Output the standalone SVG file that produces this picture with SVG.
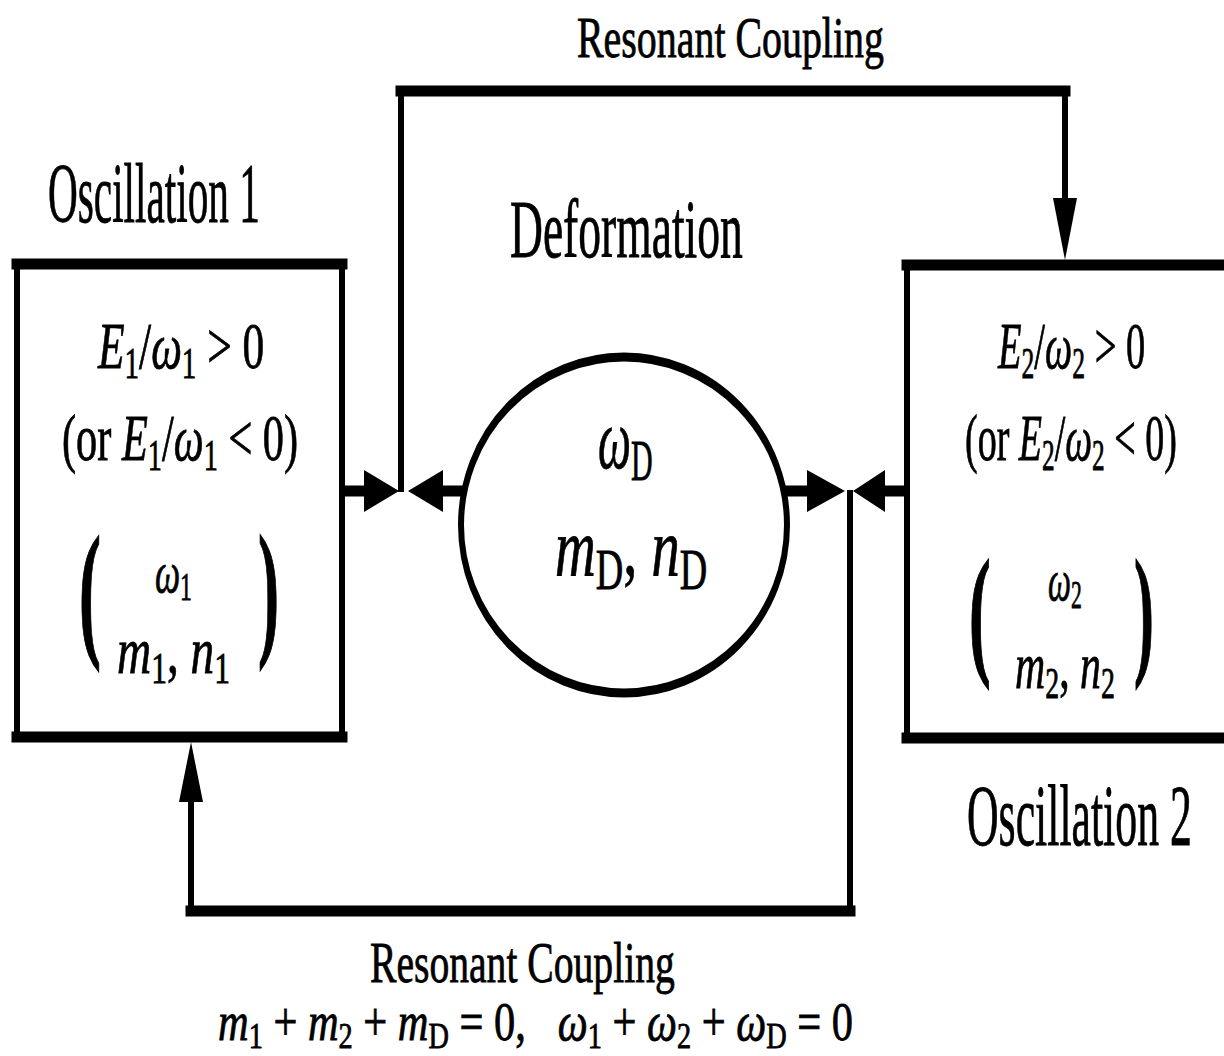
<svg xmlns="http://www.w3.org/2000/svg" width="1224" height="1056" viewBox="0 0 1224 1056">
<style>
.t{font-family:"Liberation Serif","Times New Roman",serif;fill:#000;stroke:#000;stroke-width:0.8}
.i{font-style:italic}
.p{font-weight:bold;stroke-width:1.5}
.ln{stroke:#000;fill:none;stroke-linecap:square}
.h{stroke-width:11}
.v{stroke-width:6}
.ah{fill:#000;stroke:none}
</style>
<rect width="1224" height="1056" fill="#fff"/>
<g id="connectors">
  <line class="ln h" x1="346" y1="491" x2="366" y2="491"/>
  <polygon class="ah" points="364,470 399,491 364,512"/>
  <line class="ln h" x1="442" y1="491" x2="460" y2="491"/>
  <polygon class="ah" points="443,470 408,491 443,512"/>
  <line class="ln h" x1="789" y1="491" x2="808" y2="491"/>
  <polygon class="ah" points="807,470 845,491 807,512"/>
  <line class="ln h" x1="884" y1="491" x2="904" y2="491"/>
  <polygon class="ah" points="885,470 853,491 885,512"/>
  <line class="ln v" x1="401" y1="91" x2="401" y2="489"/>
  <line class="ln h" x1="401" y1="91" x2="1065" y2="91"/>
  <line class="ln v" x1="1065" y1="91" x2="1065" y2="205"/>
  <polygon class="ah" points="1053,198 1077,198 1065,260"/>
  <line class="ln v" x1="850" y1="493" x2="850" y2="911"/>
  <line class="ln h" x1="191" y1="911" x2="850" y2="911"/>
  <line class="ln v" x1="191" y1="911" x2="191" y2="795"/>
  <polygon class="ah" points="179,802 203,802 191,742"/>
</g>
<g id="label-top">
  <text class="t" transform="translate(577,57) scale(0.7125,1)" font-size="56">Resonant Coupling</text>
</g>
<g id="oscillation1">
  <text class="t" transform="translate(48,222) scale(0.491,1)" font-size="84">Oscillation 1</text>
  <line class="ln h" x1="17" y1="264" x2="342" y2="264"/>
  <line class="ln h" x1="17" y1="737" x2="342" y2="737"/>
  <line class="ln v" x1="17" y1="264" x2="17" y2="737"/>
  <line class="ln v" x1="342" y1="264" x2="342" y2="737"/>
  <text class="t" transform="translate(98,368) scale(0.659,1)" font-size="66"><tspan class="i">E</tspan><tspan font-size="44" dy="10">1</tspan><tspan dy="-10">/</tspan><tspan class="i">ω</tspan><tspan font-size="44" dy="10">1</tspan><tspan dy="-10">&#160;&gt;&#160;0</tspan></text>
  <text class="t" transform="translate(62,460) scale(0.642,1)" font-size="66">(or&#160;<tspan class="i">E</tspan><tspan font-size="44" dy="10">1</tspan><tspan dy="-10">/</tspan><tspan class="i">ω</tspan><tspan font-size="44" dy="10">1</tspan><tspan dy="-10">&#160;&lt;&#160;0)</tspan></text>
  <text class="t p" transform="translate(79,640) scale(0.44,1)" font-size="150">(</text>
  <text class="t p" transform="translate(258,639) scale(0.42,1)" font-size="150">)</text>
  <text class="t" transform="translate(155,592) scale(0.593,1)" font-size="60"><tspan class="i">ω</tspan><tspan font-size="40" dy="8">1</tspan></text>
  <text class="t" transform="translate(117,673) scale(0.717,1)" font-size="66"><tspan class="i">m</tspan><tspan font-size="44" dy="10">1</tspan><tspan dy="-10">,&#160;</tspan><tspan class="i">n</tspan><tspan font-size="44" dy="10">1</tspan></text>
</g>
<g id="deformation">
  <text class="t" transform="translate(510,257) scale(0.549,1)" font-size="83">Deformation</text>
  <g transform="translate(624,525) scale(1,1.5)">
    <ellipse cx="0" cy="0" rx="163" ry="112" fill="none" stroke="#000" stroke-width="6"/>
  </g>
  <text class="t" transform="translate(598,468) scale(0.536,1)" font-size="87"><tspan class="i">ω</tspan><tspan font-size="56" dy="12">D</tspan></text>
  <text class="t" transform="translate(555,575) scale(0.68,1)" font-size="83"><tspan class="i">m</tspan><tspan font-size="56" dy="14">D</tspan><tspan dy="-14">,&#160;</tspan><tspan class="i">n</tspan><tspan font-size="56" dy="14">D</tspan></text>
</g>
<g id="oscillation2">
  <line class="ln h" x1="907" y1="265" x2="1230" y2="265"/>
  <line class="ln h" x1="907" y1="738" x2="1230" y2="738"/>
  <line class="ln v" x1="907" y1="265" x2="907" y2="738"/>
  <text class="t" transform="translate(998,368) scale(0.583,1)" font-size="66"><tspan class="i">E</tspan><tspan font-size="44" dy="10">2</tspan><tspan dy="-10">/</tspan><tspan class="i">ω</tspan><tspan font-size="44" dy="10">2</tspan><tspan dy="-10">&#160;&gt;&#160;0</tspan></text>
  <text class="t" transform="translate(965,460) scale(0.576,1)" font-size="66">(or&#160;<tspan class="i">E</tspan><tspan font-size="44" dy="10">2</tspan><tspan dy="-10">/</tspan><tspan class="i">ω</tspan><tspan font-size="44" dy="10">2</tspan><tspan dy="-10">&#160;&lt;&#160;0)</tspan></text>
  <text class="t p" transform="translate(969,659) scale(0.45,1)" font-size="145">(</text>
  <text class="t p" transform="translate(1134,659) scale(0.41,1)" font-size="145">)</text>
  <text class="t" transform="translate(1048,600) scale(0.542,1)" font-size="60"><tspan class="i">ω</tspan><tspan font-size="40" dy="8">2</tspan></text>
  <text class="t" transform="translate(1015,688) scale(0.634,1)" font-size="66"><tspan class="i">m</tspan><tspan font-size="44" dy="10">2</tspan><tspan dy="-10">,&#160;</tspan><tspan class="i">n</tspan><tspan font-size="44" dy="10">2</tspan></text>
  <text class="t" transform="translate(967,845) scale(0.509,1)" font-size="86">Oscillation 2</text>
</g>
<g id="label-bottom">
  <text class="t" transform="translate(370,982) scale(0.683,1)" font-size="58">Resonant Coupling</text>
  <text class="t" transform="translate(218,1040) scale(0.786,1)" font-size="54"><tspan class="i">m</tspan><tspan font-size="36" dy="8">1</tspan><tspan dy="-8">&#160;+&#160;</tspan><tspan class="i">m</tspan><tspan font-size="36" dy="8">2</tspan><tspan dy="-8">&#160;+&#160;</tspan><tspan class="i">m</tspan><tspan font-size="36" dy="8">D</tspan><tspan dy="-8">&#160;=&#160;0,&#160;&#160;&#160;</tspan><tspan class="i">ω</tspan><tspan font-size="36" dy="8">1</tspan><tspan dy="-8">&#160;+&#160;</tspan><tspan class="i">ω</tspan><tspan font-size="36" dy="8">2</tspan><tspan dy="-8">&#160;+&#160;</tspan><tspan class="i">ω</tspan><tspan font-size="36" dy="8">D</tspan><tspan dy="-8">&#160;=&#160;0</tspan></text>
</g>
</svg>
